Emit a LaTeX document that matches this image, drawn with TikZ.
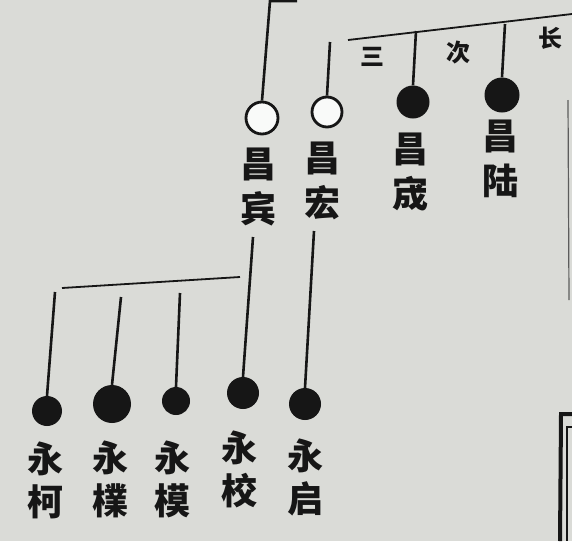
\documentclass[tikz,border=0pt]{standalone}
\usepackage{fontspec}
\newfontfamily\cjk{Noto Sans CJK SC}
\definecolor{paper}{RGB}{218,219,215}
\definecolor{ink}{RGB}{22,22,22}
\begin{document}
\begin{tikzpicture}[x=1pt,y=-1pt,
  pdot/.style={circle,fill=ink,inner sep=0pt,minimum size=#1},
  pring/.style={circle,draw=ink,line width=2.8pt,fill=white!85!paper,inner sep=0pt,minimum size=#1},
  upname/.style={font=\cjk\bfseries\fontsize{36}{45}\selectfont,text=ink,inner sep=0pt,align=center},
  lowname/.style={font=\cjk\bfseries\fontsize{36}{43}\selectfont,text=ink,inner sep=0pt,align=center},
  ranklabel/.style={font=\cjk\bfseries\fontsize{24}{26}\selectfont,text=ink,inner sep=0pt},
  stemline/.style={draw=ink,line width=2.6pt},
  barline/.style={draw=ink,line width=1.8pt}]
\fill[paper] (0,0) rectangle (572,541);
\useasboundingbox (0,0) rectangle (572,541);

% upper generation
\node[pring=32] (binr) at (262,118) {};
\node[pring=30] (hongr) at (327,112) {};
\node[pdot=33] (chengd) at (413,102) {};
\node[pdot=35] (lud) at (502,95) {};

\node[upname] (bin) at (258,187) {昌\\宾};
\node[upname] (hong) at (322,181) {昌\\宏};
\node[upname] (cheng) at (410,172) {昌\\宬};
\node[upname] (lu) at (500,159) {昌\\陆};

\node[ranklabel] (san) at (372,57) {三};
\node[ranklabel] (ci) at (458,53) {次};
\node[ranklabel] (zhang) at (550,38) {长};

\coordinate (topR) at (297,1);
\coordinate (topC) at (270,1);
\coordinate (hongT) at (330,42);
\coordinate (barL) at (348,40);
\coordinate (barR) at (572,14);
\coordinate (chengT) at (416,31);
\coordinate (luT) at (505,24);

\draw[barline] (barL) -- (barR);
\draw[stemline] (topR) -- (topC) -- (binr.north);
\draw[stemline] (hongT) -- (hongr.north);
\draw[stemline] (chengT) -- (chengd.north);
\draw[stemline] (luT) -- (lud.north);

% lower generation
\node[pdot=30] (ked) at (47,411) {};
\node[pdot=38] (pud) at (112,404) {};
\node[pdot=28] (mod) at (176,401) {};
\node[pdot=32] (xiaod) at (243,393) {};
\node[pdot=32] (qid) at (305,404) {};

\node[lowname] (ke) at (45,480) {永\\柯};
\node[lowname] (pu) at (110,479) {永\\檏};
\node[lowname] (mo) at (172,479) {永\\模};
\node[lowname] (xiao) at (239,469) {永\\校};
\node[lowname] (qi) at (305,477) {永\\启};

\coordinate (lbarL) at (62,288);
\coordinate (lbarR) at (240,277);
\coordinate (keT) at (55,292);
\coordinate (puT) at (121,297);
\coordinate (moT) at (180,293);
\coordinate (xiaoT) at (253,237);
\coordinate (qiT) at (314,231);

\draw[barline] (lbarL) -- (lbarR);
\draw[stemline] (keT) -- (ked.north);
\draw[stemline] (puT) -- (pud.north);
\draw[stemline] (moT) -- (mod.north);
\draw[stemline] (xiaoT) -- (xiaod.north);
\draw[stemline] (qiT) -- (qid.north);

% page edge and next box
\draw[ink!70, line width=1.2pt] (568,100) -- (569,300);
\draw[ink, line width=4pt] (572,414) -- (561,414) -- (560,541);
\draw[ink, line width=2pt] (572,427) -- (567,427) -- (567,541);
\end{tikzpicture}
\end{document}
